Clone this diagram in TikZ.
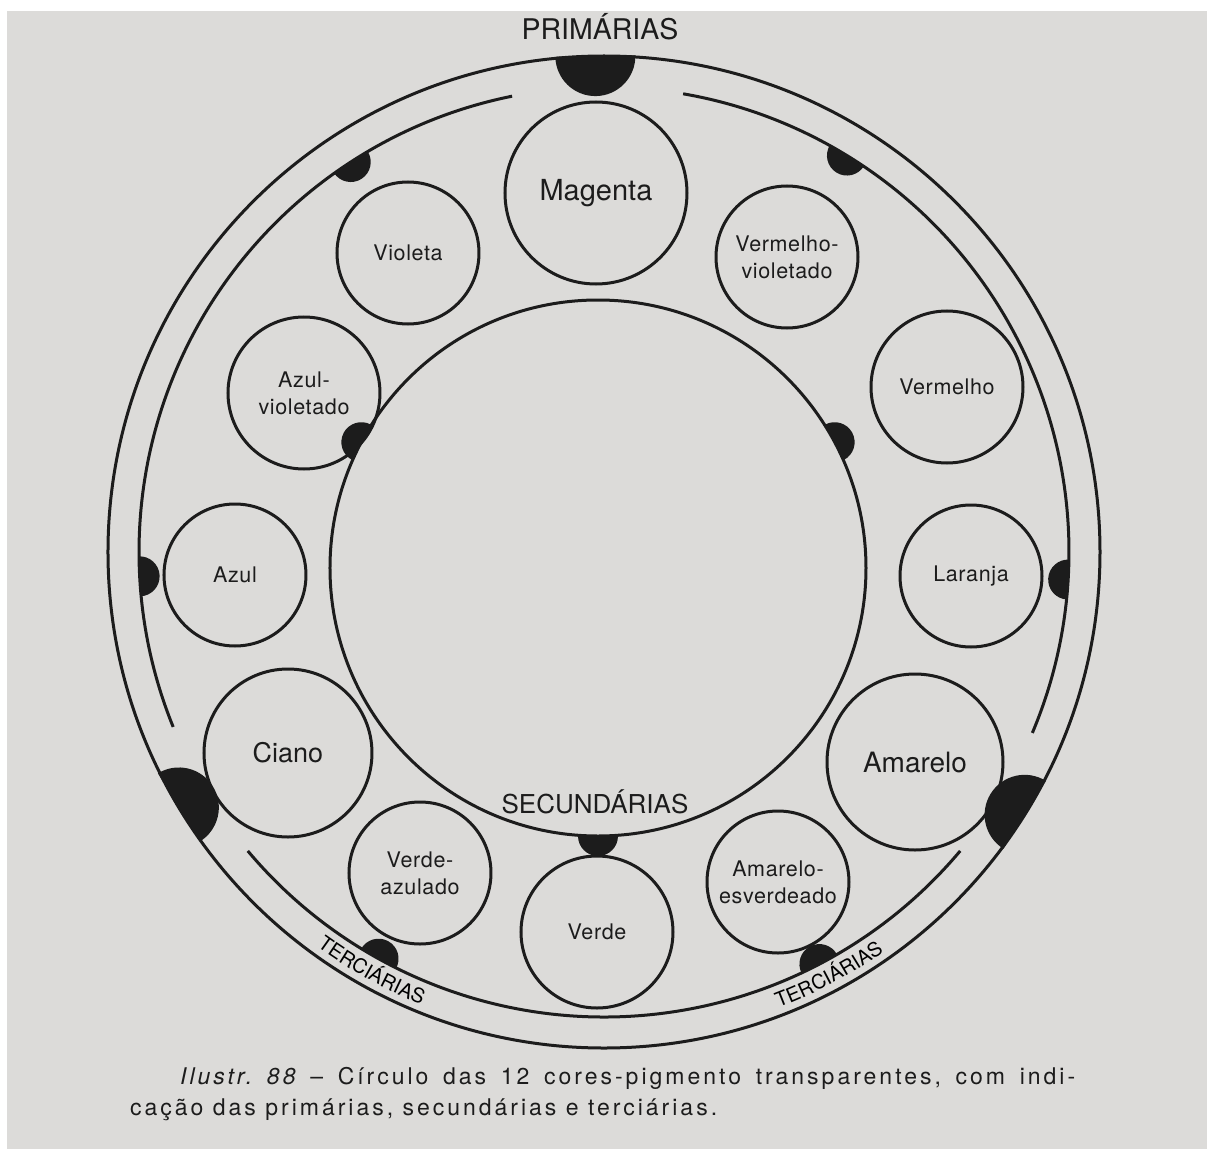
\documentclass[tikz,border=0pt]{standalone}
\usepackage{fontspec}
\usetikzlibrary{decorations.text}
\setmainfont{TeX Gyre Heros}
\newfontfamily\lblfont[LetterSpace=3]{TeX Gyre Heros}
\newfontfamily\capfont[LetterSpace=13]{TeX Gyre Heros}
\newcommand\tercfont{\fontsize{20}{24}\selectfont}
\definecolor{ink}{RGB}{28,28,28}
\definecolor{paper}{RGB}{220,219,217}
\def \Ro{496}
\def \Ri{465}
\def \Rt{488}

\tikzset{
  ring/.style={draw=ink, line width=3pt},
  colorcirc/.style={circle, ring, inner sep=0pt, align=center, text=ink},
  primcirc/.style={colorcirc, minimum size=176, font=\fontsize{28}{30}\selectfont},
  seccirc/.style={colorcirc, minimum size=152, font=\lblfont\fontsize{21.5}{27}\selectfont},
  tertcirc/.style={colorcirc, minimum size=142, font=\lblfont\fontsize{21.5}{27}\selectfont},
  grouplabel/.style={text=ink, inner sep=0pt, font=\fontsize{26}{30}\selectfont},
  terclabel/.style={decorate, decoration={text along path, text align=center, text={|\tercfont|TERCIÁRIAS}}},
  caption/.style={text=ink, inner sep=0pt, font=\capfont\fontsize{23}{24}\selectfont\frenchspacing}
}

\begin{document}
\begin{tikzpicture}[x=1pt, y=1pt]
  \useasboundingbox (-604,552) rectangle (603,-597);
  \fill[white] (-604,552) rectangle (603,-597);
  \fill[paper] (-597,541) rectangle (603,-597);

  \node[ring, circle, minimum size=992, inner sep=0pt, outer sep=0pt] (outer) at (0,0) {};
  \draw[ring] (101.4:\Ri) arc[start angle=101.4, end angle=202.1, radius=\Ri];
  \draw[ring] (220:\Ri) arc[start angle=220, end angle=320, radius=\Ri];
  \draw[ring] (-22.9:\Ri) arc[start angle=-22.9, end angle=80.2, radius=\Ri];
  \node[ring, circle, minimum size=536, inner sep=0pt, outer sep=0pt] (mix) at (-6,-16) {};

  \foreach \a in {91,211.5,328}
    \fill[ink] (outer.\a) ++(\a+90:40) arc[start angle=\a+90, end angle=\a+270, radius=40] -- cycle;
  \foreach \a in {28.5,152,270}
    \fill[ink] (mix.\a) ++(\a-90:20) arc[start angle=\a-90, end angle=\a+90, radius=20] -- cycle;
  \foreach \a in {58.5,123,183,241,297.6,356.6}
    \fill[ink] (\a:\Ri) ++(\a+90:20) arc[start angle=\a+90, end angle=\a+270, radius=20] -- cycle;

  \node[primcirc, minimum size=182, font=\fontsize{29}{30}\selectfont] (magenta) at (-8,359) {Magenta};
  \node[primcirc, minimum size=168, font=\fontsize{27}{30}\selectfont] (ciano) at (-316,-201) {Ciano};
  \node[primcirc] (amarelo) at (311,-210) {Amarelo};
  \node[seccirc] (azulvio) at (-300,159) {Azul-\\violetado};
  \node[seccirc] (vermelho) at (343,165) {Vermelho};
  \node[seccirc] (verde) at (-7,-380) {Verde};
  \node[tertcirc] (violeta) at (-196,299) {Violeta};
  \node[tertcirc] (vermvio) at (183,295) {Vermelho-\\violetado};
  \node[tertcirc] (azul) at (-369,-23) {Azul};
  \node[tertcirc] (laranja) at (367,-24) {Laranja};
  \node[tertcirc] (verdeaz) at (-184,-321) {Verde-\\azulado};
  \node[tertcirc] (amaresv) at (174,-330) {Amarelo-\\esverdeado};

  \node[grouplabel, anchor=base, font=\fontsize{28.5}{30}\selectfont] (prim) at (-4,512) {PRIMÁRIAS};
  \node[grouplabel, anchor=base] (sec) at (-9,-261) {SECUNDÁRIAS};
  \path[terclabel] (233:\Rt) arc[start angle=233, end angle=249, radius=\Rt];
  \path[terclabel] (290:\Rt) arc[start angle=290, end angle=306, radius=\Rt];

  \node[caption, anchor=base west] (cap1) at (-424,-532) {\makebox[895pt][s]{{\itshape Ilustr. 88} – Círculo das 12 cores-pigmento transparentes, com indi-}};
  \node[caption, anchor=base west] (cap2) at (-474,-563) {cação das primárias, secundárias e terciárias.};
\end{tikzpicture}
\end{document}
